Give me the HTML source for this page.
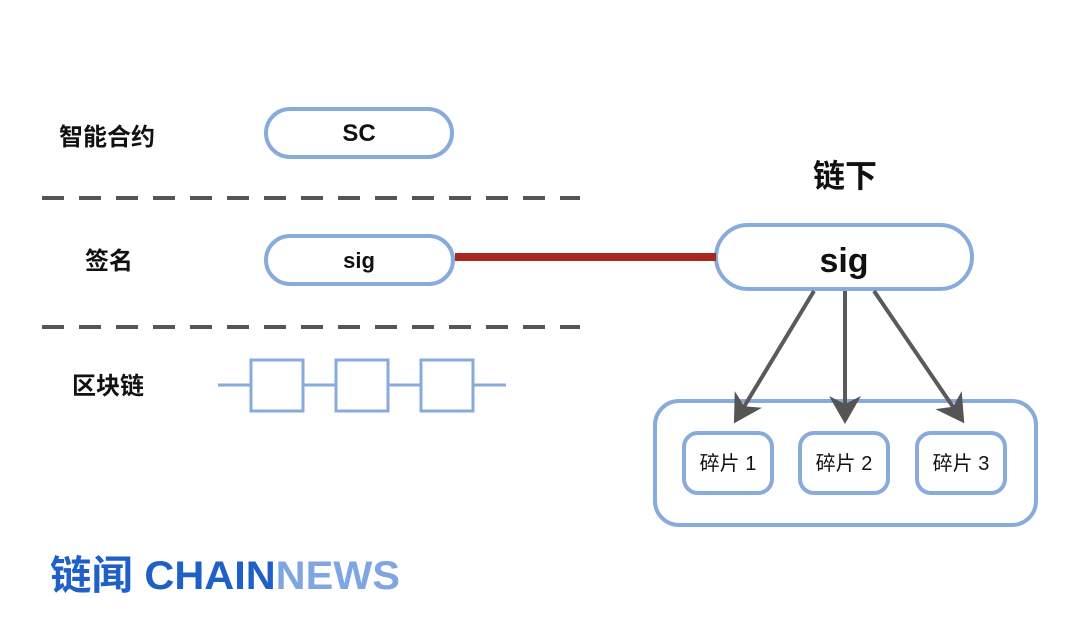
<!DOCTYPE html>
<html><head><meta charset="utf-8"><style>
body{margin:0;background:#fff}
svg text{font-family:"Liberation Sans","Noto Sans CJK SC",sans-serif}
</style></head><body>
<svg width="1080" height="617" viewBox="0 0 1080 617" xmlns="http://www.w3.org/2000/svg">
<defs><marker id="a" markerWidth="8" markerHeight="8" refX="6" refY="4" orient="auto" markerUnits="strokeWidth"><path d="M0,0 L7,4 L0,8 L2,4 z" fill="#555"/></marker></defs>
<g fill="none" stroke="#88aadc" stroke-width="4">
<rect x="266" y="109" width="186" height="48" rx="24" fill="#fff"/>
<rect x="266" y="236" width="187" height="48" rx="24" fill="#fff"/>
<line x1="218" y1="385" x2="506" y2="385" stroke-width="3"/>
<rect x="251" y="360" width="52" height="51" fill="#fff" stroke-width="3"/>
<rect x="336" y="360" width="52" height="51" fill="#fff" stroke-width="3"/>
<rect x="421" y="360" width="52" height="51" fill="#fff" stroke-width="3"/>
<rect x="716" y="225" width="256" height="64" rx="32" fill="#fff"/>
<rect x="655" y="401" width="381" height="124" rx="24"/>
<rect x="684" y="433" width="88" height="60" rx="14" fill="#fff"/>
<rect x="800" y="433" width="88" height="60" rx="14" fill="#fff"/>
<rect x="917" y="433" width="88" height="60" rx="14" fill="#fff"/>
</g>
<line x1="455" y1="257" x2="716" y2="257" stroke="#a82820" stroke-width="8"/>
<g stroke="#555" stroke-width="4" stroke-dasharray="22 15">
<line x1="42" y1="198" x2="580" y2="198"/>
<line x1="42" y1="327" x2="580" y2="327"/>
</g>
<g stroke="#5a5a5a" stroke-width="4" marker-end="url(#a)">
<line x1="814" y1="291" x2="736" y2="420"/>
<line x1="845" y1="291" x2="845" y2="420"/>
<line x1="874" y1="291" x2="962" y2="420"/>
</g>
<g font-size="24" font-weight="bold" fill="#111">
<text x="59" y="145">智能合约</text>
<text x="85" y="269">签名</text>
<text x="72" y="394">区块链</text>
</g>
<text x="359" y="141" font-size="24" text-anchor="middle" font-weight="bold" fill="#111">SC</text>
<text x="359" y="268" font-size="22" text-anchor="middle" font-weight="bold" fill="#111">sig</text>
<text x="845" y="187" font-size="32" text-anchor="middle" font-weight="bold" fill="#111">链下</text>
<text x="844" y="272" font-size="34" text-anchor="middle" font-weight="bold" fill="#111">sig</text>
<g font-size="20" text-anchor="middle" fill="#111">
<text x="728" y="470">碎片 1</text>
<text x="844" y="470">碎片 2</text>
<text x="961" y="470">碎片 3</text>
</g>
<text x="50" y="589" font-size="40" font-weight="bold" fill="#1f5fc8" textLength="350" lengthAdjust="spacingAndGlyphs">链闻 CHAIN<tspan fill="#7fa6e0">NEWS</tspan></text>
</svg>
</body></html>
